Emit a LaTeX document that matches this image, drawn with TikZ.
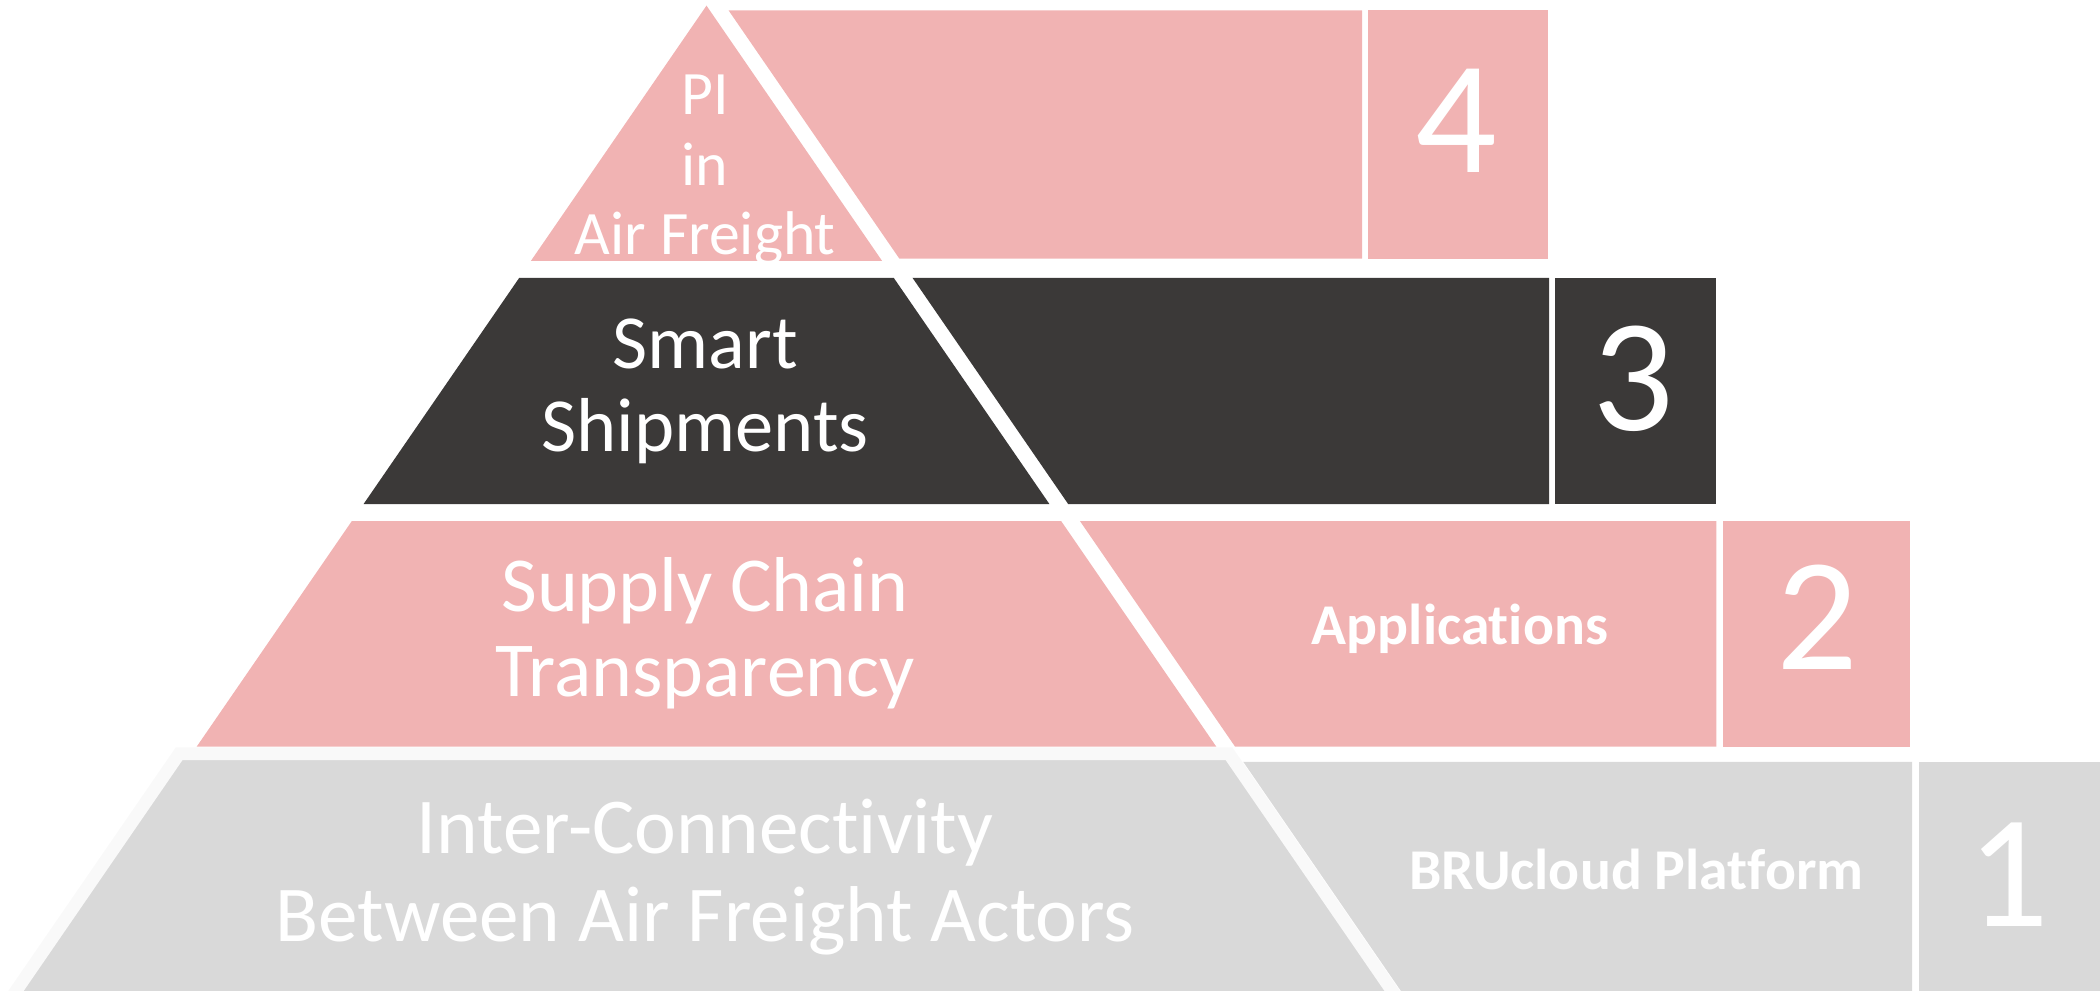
\documentclass[tikz,border=0pt]{standalone}
\usepackage{fontspec}
\setmainfont{Carlito}[Ligatures=NoCommon, Contextuals=NoAlternate]
\definecolor{pinkf}{HTML}{F1B3B3}
\definecolor{darkf}{HTML}{3B3938}
\definecolor{grayf}{HTML}{D9D9D9}
\definecolor{edgef}{HTML}{F9F9F9}
\begin{document}
\begin{tikzpicture}[x=1pt,y=-1pt,
  txt/.style={text=white, inner sep=0pt, anchor=base},
  fa/.style={txt, font=\fontsize{46}{46}\selectfont},
  fb/.style={txt, font=\fontsize{57}{57}\selectfont},
  fc/.style={txt, font=\fontsize{58}{58}\selectfont},
  fd/.style={txt, font=\fontsize{59}{59}\selectfont},
  sub/.style={txt, font=\fontsize{43}{43}\selectfont\bfseries},
  num/.style={txt, font=\fontsize{120}{120}\selectfont}]
\useasboundingbox (0,0) rectangle (1565,737.8);
\clip (0,0) rectangle (1565,737.8);
% ---- level 4
\fill[pinkf] (526.5,4.2) -- (657.4,194.5) -- (395.6,194.5) -- cycle;
\fill[pinkf] (543.0,7.8) -- (1015,7.8) -- (1015,192.7) -- (670.2,192.7) -- cycle;
\fill[pinkf] (1019.4,7.8) rectangle (1153.6,192.7);
% ---- level 3
\fill[darkf] (387.0,207) -- (666.0,207) -- (782.1,375.7) -- (270.9,375.7) -- cycle;
\fill[darkf] (680.0,207) -- (1154.4,207) -- (1154.4,375.7) -- (796.1,375.7) -- cycle;
\fill[darkf] (1159.2,207) rectangle (1278.6,375.7);
% ---- level 2
\fill[pinkf] (262.2,388.3) -- (790.8,388.3) -- (906.4,556.4) -- (146.6,556.4) -- cycle;
\fill[pinkf] (804.8,388.3) -- (1279,388.3) -- (1279,556.4) -- (920.4,556.4) -- cycle;
\fill[pinkf] (1284,388.3) rectangle (1423.6,556.4);
% ---- level 1
\fill[grayf] (926.5,567.7) -- (1425,567.7) -- (1425,745) -- (1048.5,745) -- cycle;
\fill[grayf] (1430,567.7) rectangle (1570,745);
\filldraw[fill=grayf, draw=edgef, line width=9.5pt, line join=miter]
  (133.5,561.7) -- (915.9,561.7) -- (1042.0,745) -- (7.4,745) -- cycle;
% ---- texts
\node[fa] (t4a) at (525.5,85.0) {PI};
\node[fa] (t4b) at (525.5,137.9) {in};
\node[fa] (t4c) at (525.5,189.6) {Air Freight};
\node[fb] (t3a) at (525.5,274.5) {Smart};
\node[fb] (t3b) at (525.5,336.6) {Shipments};
\node[fc] (t2a) at (525.5,455.8) {Supply Chain};
\node[fc] (t2b) at (525.5,519.2) {Transparency};
\node[fd] (t1a) at (525.5,636.4) {Inter-Connectivity};
\node[fd] (t1b) at (525.5,701.7) {Between Air Freight Actors};
\node[sub] (s2) at (1088,480.6) {Applications};
\node[sub] (s1) at (1219.6,662.7) {BRUcloud Platform};
\node[num] (n4) at (1085,128.6) {4};
\node[num] (n3) at (1217,321.1) {3};
\node[num] (n2) at (1354,499.3) {2};
\node[num] (n1) at (1497,690.5) {1};
\end{tikzpicture}
\end{document}
